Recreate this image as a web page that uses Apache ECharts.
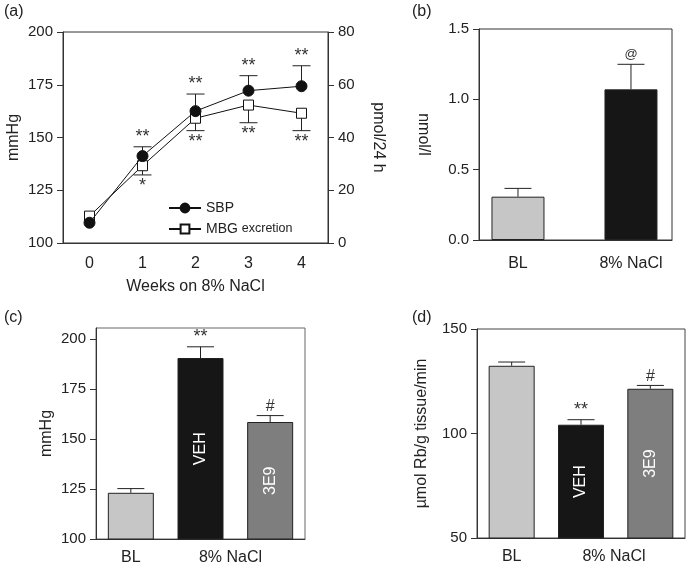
<!DOCTYPE html>
<html>
<head>
<meta charset="utf-8">
<script src="https://cdn.jsdelivr.net/npm/echarts@6/dist/echarts.min.js"></script>
<style>html,body{margin:0;padding:0;background:#fff}#c{width:690px;height:568px}</style>
</head>
<body>
<div id="c"></div>
<script>
// ---- Panel (a) ----
const weeks = ['0', '1', '2', '3', '4'];
const sbp = [109.6, 141.2, 162.5, 172.2, 174.3];
const sbpUpper = [null, 145.6, 170.6, 179.3, 184.0];
const sbpMarks = ['', '**', '**', '**', '**'];
const mbg = [10.2, 29.3, 47.3, 52.3, 49.2];
const mbgLower = [null, 25.8, 42.6, 45.6, 42.6];
const mbgMarks = ['', '*', '**', '**', '**'];
// ---- Panel (b) ----
const bCats = ['BL', '8% NaCl'];
const bVals = [0.308, 1.071];
const bUpper = [0.367, 1.249];
const bMarks = ['', '@'];
// ---- Panel (c) ----
const cCats = ['BL', 'VEH', '3E9'];
const cVals = [123.1, 190.5, 158.5];
const cUpper = [125.2, 196.1, 161.7];
const cMarks = ['', '**', '#'];
const cTicks = [100, 125, 150, 175, 200];
// ---- Panel (d) ----
const dCats = ['BL', 'VEH', '3E9'];
const dVals = [132.4, 104.2, 121.4];
const dUpper = [134.2, 106.6, 123.0];
const dMarks = ['', '**', '#'];

const F = "'Liberation Sans', Arial, sans-serif";
const barColors = ['#c6c6c6', '#161616', '#7e7e7e'];
const ink = '#222';

function errRender(marks, dir, capW, gap, fs) {
  return function (params, api) {
    const x = api.value(0), m = api.value(1), e = api.value(2);
    if (e == null || isNaN(e)) return null;
    const p0 = api.coord([x, m]), p1 = api.coord([x, e]);
    const ch = [
      {type: 'line', shape: {x1: p0[0], y1: p0[1], x2: p1[0], y2: p1[1]}, style: {stroke: '#222', lineWidth: 1}},
      {type: 'line', shape: {x1: p1[0] - capW / 2, y1: p1[1], x2: p1[0] + capW / 2, y2: p1[1]}, style: {stroke: '#222', lineWidth: 1}}
    ];
    const t = marks[params.dataIndex];
    if (t) {
      const size = t.indexOf('*') >= 0 ? 18 : fs;
      ch.push({type: 'text', x: p1[0], y: dir < 0 ? p1[1] - gap : p1[1] + gap,
        style: {text: t, align: 'center', verticalAlign: dir < 0 ? 'bottom' : 'top', fontSize: size, fontFamily: F, fill: '#333'}});
    }
    return {type: 'group', children: ch};
  };
}

function barData(vals, inner) {
  return vals.map((v, i) => ({
    value: v,
    itemStyle: {color: barColors[i], borderColor: '#222', borderWidth: 1},
    label: inner[i] ? {show: true, position: 'inside', rotate: 90, formatter: inner[i], color: '#fff', fontSize: 16, fontFamily: F} : {show: false}
  }));
}

const tickStyle = {length: 6, lineStyle: {color: '#333'}};
const labelStyle = {color: ink, fontSize: 15, fontFamily: F};
const nameStyle = {fontSize: 16, color: ink, fontFamily: F};
const yLine = {show: true, onZero: false, lineStyle: {color: '#333', width: 1}};
const xLine = {show: true, onZero: false, lineStyle: {color: '#333', width: 1}};

const option = {
  animation: false,
  textStyle: {fontFamily: F},
  graphic: [
    {type: 'text', left: 4, top: 4, style: {text: '(a)', fontSize: 16, fontFamily: F, fill: ink}},
    {type: 'text', left: 412, top: 4, style: {text: '(b)', fontSize: 16, fontFamily: F, fill: ink}},
    {type: 'text', left: 4, top: 310, style: {text: '(c)', fontSize: 16, fontFamily: F, fill: ink}},
    {type: 'text', left: 412, top: 310, style: {text: '(d)', fontSize: 16, fontFamily: F, fill: ink}}
  ],
  legend: {
    data: ['SBP', 'MBG excretion'],
    orient: 'vertical', left: 163, top: 196, itemWidth: 32, itemHeight: 11, itemGap: 7,
    textStyle: {color: ink, fontSize: 14, fontFamily: F,
      rich: {m: {fontSize: 14, fontFamily: F, color: ink}, e: {fontSize: 12.5, fontFamily: F, color: ink}}},
    formatter: n => n === 'MBG excretion' ? '{m|MBG} {e|excretion}' : n
  },
  grid: [
    {left: 63, top: 32, width: 265, height: 211, show: true, borderColor: '#333', borderWidth: 1},
    {left: 479, top: 29, width: 193, height: 211, show: true, borderColor: '#333', borderWidth: 1},
    {left: 96, top: 328, width: 209, height: 211, show: true, borderColor: '#666', borderWidth: 1},
    {left: 477, top: 329, width: 208, height: 209, show: true, borderColor: '#444', borderWidth: 1}
  ],
  xAxis: [
    {gridIndex: 0, type: 'category', data: weeks, boundaryGap: true,
      axisLine: xLine, axisTick: {alignWithLabel: true, length: 5, lineStyle: {color: '#333'}},
      axisLabel: {margin: 13, fontSize: 16, color: ink, fontFamily: F},
      name: 'Weeks on 8% NaCl', nameLocation: 'middle', nameGap: 36, nameTextStyle: nameStyle},
    {gridIndex: 1, type: 'value', min: -0.345, max: 1.363,
      axisLine: xLine, axisTick: {show: false}, splitLine: {show: false},
      axisLabel: {customValues: [0, 1], formatter: v => bCats[Math.round(v)], margin: 16, color: ink, fontSize: 16, fontFamily: F}},
    {gridIndex: 2, type: 'category', data: cCats,
      axisLine: xLine, axisTick: {show: false},
      axisLabel: {margin: 11, color: ink, fontSize: 16, fontFamily: F, interval: 0,
        formatter: (v, i) => i === 0 ? 'BL' : (i === 1 ? '{s|8% NaCl}' : ''),
        rich: {s: {padding: [0, 0, 0, 60], fontSize: 16, fontFamily: F, color: ink}}}},
    {gridIndex: 3, type: 'category', data: dCats,
      axisLine: xLine, axisTick: {show: false},
      axisLabel: {margin: 11, color: ink, fontSize: 16, fontFamily: F, interval: 0,
        formatter: (v, i) => i === 0 ? 'BL' : (i === 1 ? '{s|8% NaCl}' : ''),
        rich: {s: {padding: [0, 0, 0, 66], fontSize: 16, fontFamily: F, color: ink}}}}
  ],
  yAxis: [
    {gridIndex: 0, type: 'value', min: 100, max: 200, interval: 25,
      axisLine: yLine, axisTick: Object.assign({show: true}, tickStyle), splitLine: {show: false},
      axisLabel: Object.assign({margin: 10}, labelStyle),
      name: 'mmHg', nameLocation: 'middle', nameGap: 41, nameTextStyle: nameStyle},
    {gridIndex: 0, type: 'value', position: 'right', min: 0, max: 80, interval: 20,
      axisLine: yLine, axisTick: Object.assign({show: true}, tickStyle), splitLine: {show: false},
      axisLabel: Object.assign({margin: 10}, labelStyle),
      name: 'pmol/24 h', nameLocation: 'middle', nameGap: 42, nameRotate: -90, nameTextStyle: nameStyle},
    {gridIndex: 1, type: 'value', min: 0, max: 1.5, interval: 0.5,
      axisLine: yLine, axisTick: Object.assign({show: true}, tickStyle), splitLine: {show: false},
      axisLabel: Object.assign({margin: 10, formatter: v => v.toFixed(1)}, labelStyle),
      name: 'nmol/l', nameLocation: 'middle', nameGap: 48, nameRotate: -90, nameTextStyle: nameStyle},
    {gridIndex: 2, type: 'value', min: 100, max: 205.5,
      axisLine: yLine,
      axisTick: Object.assign({show: true, customValues: cTicks}, tickStyle), splitLine: {show: false},
      axisLabel: Object.assign({margin: 10, customValues: cTicks}, labelStyle),
      name: 'mmHg', nameLocation: 'middle', nameGap: 41, nameTextStyle: nameStyle},
    {gridIndex: 3, type: 'value', min: 50, max: 150, interval: 50,
      axisLine: yLine, axisTick: Object.assign({show: true}, tickStyle), splitLine: {show: false},
      axisLabel: Object.assign({margin: 10}, labelStyle),
      name: 'µmol Rb/g tissue/min', nameLocation: 'middle', nameGap: 47, nameTextStyle: nameStyle}
  ],
  series: [
    // (a) error bars
    {type: 'custom', xAxisIndex: 0, yAxisIndex: 0, z: 1, silent: true,
      data: weeks.map((w, i) => [i, sbp[i], sbpUpper[i]]), renderItem: errRender(sbpMarks, -1, 18, 1, 15)},
    {type: 'custom', xAxisIndex: 0, yAxisIndex: 1, z: 1, silent: true,
      data: weeks.map((w, i) => [i, mbg[i], mbgLower[i]]), renderItem: errRender(mbgMarks, 1, 18, 2, 15)},
    {name: 'MBG excretion', type: 'line', xAxisIndex: 0, yAxisIndex: 1, z: 3, data: mbg,
      symbol: 'rect', symbolSize: 10, lineStyle: {color: '#111', width: 1},
      itemStyle: {color: '#fff', borderColor: '#111', borderWidth: 1}},
    {name: 'SBP', type: 'line', xAxisIndex: 0, yAxisIndex: 0, z: 4, data: sbp,
      symbol: 'circle', symbolSize: 11, lineStyle: {color: '#111', width: 1},
      itemStyle: {color: '#111', borderColor: '#111', borderWidth: 1}},
    // (b)
    {type: 'bar', xAxisIndex: 1, yAxisIndex: 2, barWidth: 53,
      data: bVals.map((v, i) => ({value: [i, v], itemStyle: {color: barColors[i], borderColor: '#222', borderWidth: 1}}))},
    {type: 'custom', xAxisIndex: 1, yAxisIndex: 2, silent: true,
      data: bVals.map((v, i) => [i, v, bUpper[i]]), renderItem: errRender(bMarks, -1, 27, 3, 13)},
    // (c)
    {type: 'bar', xAxisIndex: 2, yAxisIndex: 3, barWidth: 46, data: barData(cVals, ['', 'VEH', '3E9'])},
    {type: 'custom', xAxisIndex: 2, yAxisIndex: 3, silent: true,
      data: cVals.map((v, i) => [i, v, cUpper[i]]), renderItem: errRender(cMarks, -1, 27, 1, 16)},
    // (d)
    {type: 'bar', xAxisIndex: 3, yAxisIndex: 4, barWidth: 46, data: barData(dVals, ['', 'VEH', '3E9'])},
    {type: 'custom', xAxisIndex: 3, yAxisIndex: 4, silent: true,
      data: dVals.map((v, i) => [i, v, dUpper[i]]), renderItem: errRender(dMarks, -1, 27, 1, 16)}
  ]
};
const chart = echarts.init(document.getElementById('c'), null, {renderer: 'canvas'});
chart.setOption(option);
</script>
</body>
</html>
